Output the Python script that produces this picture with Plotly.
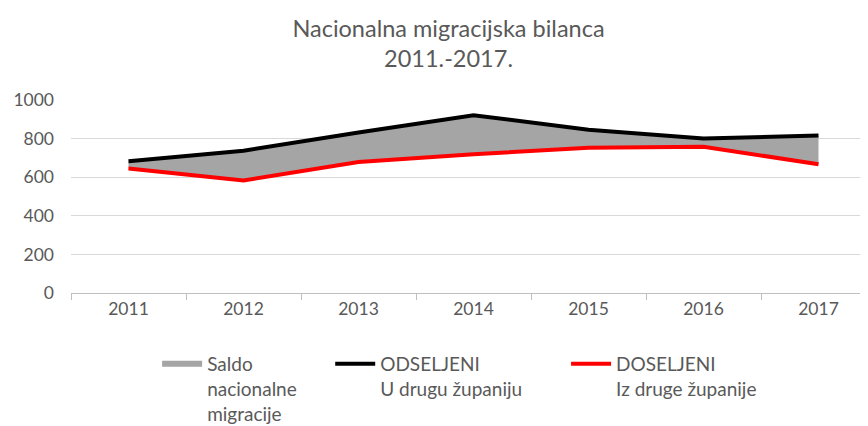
import plotly.graph_objects as go

years = ["2011", "2012", "2013", "2014", "2015", "2016", "2017"]
odseljeni = [683, 737, 832, 921, 846, 801, 816]
doseljeni = [645, 583, 679, 719, 752, 758, 667]
saldo = [o - d for o, d in zip(odseljeni, doseljeni)]
y_ticks = [0, 200, 400, 600, 800, 1000]

FONT = "Lato"
TXT = "#595959"

fig = go.Figure()
# invisible base for stacked area
fig.add_trace(go.Scatter(x=years, y=doseljeni, stackgroup="s", mode="none",
                         fillcolor="rgba(0,0,0,0)", showlegend=False, hoverinfo="skip"))
fig.add_trace(go.Scatter(x=years, y=saldo, stackgroup="s", mode="none",
                         fillcolor="#a5a5a5", name="Saldo<br>nacionalne<br>migracije",
                         legend="legend"))
fig.add_trace(go.Scatter(x=years, y=odseljeni, mode="lines",
                         line=dict(color="#000000", width=4),
                         name="ODSELJENI<br>U drugu županiju", legend="legend2"))
fig.add_trace(go.Scatter(x=years, y=doseljeni, mode="lines",
                         line=dict(color="#ff0000", width=4),
                         name="DOSELJENI<br>Iz druge županije", legend="legend3"))

leg_common = dict(orientation="h", y=-0.269, yanchor="top", xanchor="left",
                  valign="top", font=dict(family=FONT, size=19, color=TXT),
                  itemwidth=40, bgcolor="rgba(0,0,0,0)")

fig.update_layout(
    width=868, height=426,
    paper_bgcolor="white", plot_bgcolor="white",
    margin=dict(l=63, r=0, t=92, b=141, autoexpand=False),
    font=dict(family=FONT, size=17.5, color=TXT),
    title=dict(text="Nacionalna migracijska bilanca<br>2011.-2017.",
               x=0.5075, xanchor="center", y=0.933, yanchor="top",
               font=dict(family=FONT, size=23.5, color=TXT)),
    showlegend=True,
    legend=dict(x=0.107, **leg_common),
    legend2=dict(x=0.322, **leg_common),
    legend3=dict(x=0.615, **leg_common),
    xaxis=dict(type="category", range=[-0.5, 6.5], showgrid=False,
               showline=True, linecolor="#bfbfbf", linewidth=1,
               ticks="outside", tickson="boundaries", ticklen=6, tickcolor="#bfbfbf",
               tickfont=dict(family=FONT, size=17.5, color=TXT)),
    yaxis=dict(range=[0, 1000], tickvals=y_ticks, showgrid=True, gridcolor="#d9d9d9",
               gridwidth=1, zeroline=False, showline=False, ticks="",
               ticklabelstandoff=16,
               tickfont=dict(family=FONT, size=17.5, color=TXT)),
)

fig.write_html("out.html")
